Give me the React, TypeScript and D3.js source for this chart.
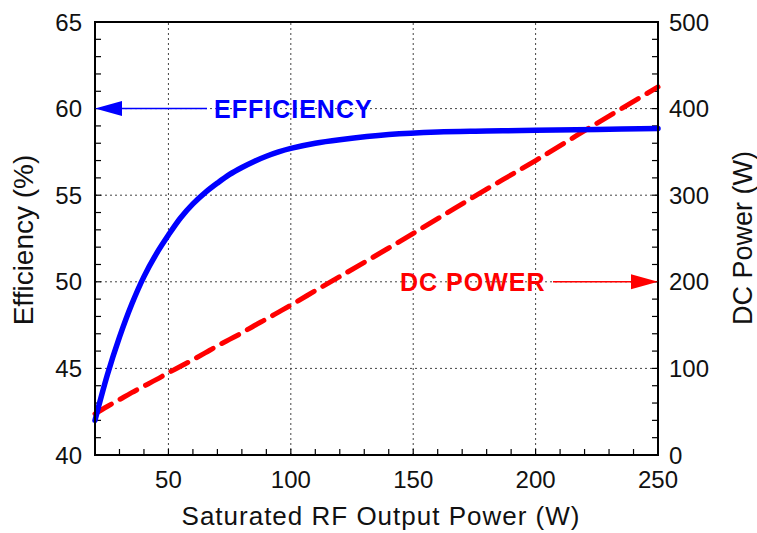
import * as d3 from 'd3'

const pout = [20, 25, 30, 35, 40, 45, 50, 55, 60, 65, 70, 75, 80, 85, 90, 95, 100, 110, 120, 140, 160, 180, 200, 225, 250]
const efficiency = [42.0, 44.6, 46.8, 48.7, 50.3, 51.6, 52.7, 53.7, 54.5, 55.15, 55.7, 56.2, 56.6, 56.95, 57.25, 57.5, 57.7, 58.0, 58.2, 58.5, 58.65, 58.7, 58.75, 58.8, 58.85]
const dcPower = [47.6, 56, 64, 72, 79.5, 87, 95, 102.4, 110, 117.9, 126, 133.5, 141, 149.3, 157, 165, 173, 189.7, 206, 239, 273, 307, 340, 383, 425]

const xTicks = [50, 100, 150, 200, 250]
const effTicks = [40, 45, 50, 55, 60, 65]
const dcTicks = [0, 100, 200, 300, 400, 500]

const W = 757
const H = 533
const M = { left: 95, right: 99, top: 22, bottom: 78 }
const FONT = 'Liberation Sans, Arial, sans-serif'
const BLUE = '#0000ff'
const RED = '#ff0000'

export default function App() {
  const x = d3.scaleLinear().domain([20, 250]).range([M.left, W - M.right])
  const yL = d3.scaleLinear().domain([40, 65]).range([H - M.bottom, M.top])
  const yR = d3.scaleLinear().domain([0, 500]).range([H - M.bottom, M.top])

  const x0 = M.left
  const x1 = W - M.right
  const y0 = H - M.bottom
  const y1 = M.top

  const effLine = d3.line<number>().x((_, i) => x(pout[i])).y((d) => yL(d)).curve(d3.curveCatmullRom)
  const dcLine = d3.line<number>().x((_, i) => x(pout[i])).y((d) => yR(d)).curve(d3.curveCatmullRom)

  const xMinor = d3.range(30, 250, 10)
  const effMinor = d3.range(41, 65, 1)
  const dcMinor = d3.range(20, 500, 20)

  const effArrowY = yL(60)
  const dcArrowY = yR(200)

  return (
    <svg width={W} height={H} style={{ position: 'fixed', left: 0, top: 0, background: '#fff' }} fontFamily={FONT}>
      {/* grid */}
      <g stroke="#444" strokeWidth={1} strokeDasharray="2,3">
        {xTicks.filter((t) => t < 250).map((t) => (
          <line key={'gx' + t} x1={x(t)} x2={x(t)} y1={y0} y2={y1} />
        ))}
        {effTicks.filter((t) => t > 40 && t < 65).map((t) => (
          <line key={'gy' + t} x1={x0} x2={x1} y1={yL(t)} y2={yL(t)} />
        ))}
      </g>

      {/* minor ticks, inward */}
      <g stroke="#000" strokeWidth={1.2}>
        {xMinor.map((t) => (
          <line key={'mx' + t} x1={x(t)} x2={x(t)} y1={y0} y2={y0 - 6} />
        ))}
        {effMinor.map((t) => (
          <line key={'ml' + t} x1={x0} x2={x0 + 6} y1={yL(t)} y2={yL(t)} />
        ))}
        {dcMinor.map((t) => (
          <line key={'mr' + t} x1={x1} x2={x1 - 6} y1={yR(t)} y2={yR(t)} />
        ))}
      </g>

      {/* series */}
      <path d={dcLine(dcPower) || ''} fill="none" stroke={RED} strokeWidth={5} strokeDasharray="19,10" strokeLinecap="round" />
      <path d={effLine(efficiency) || ''} fill="none" stroke={BLUE} strokeWidth={5.5} strokeLinecap="round" />

      {/* frame */}
      <rect x={x0} y={y1} width={x1 - x0} height={y0 - y1} fill="none" stroke="#000" strokeWidth={2} />

      {/* tick labels */}
      <g fontSize={24} fill="#111">
        {xTicks.map((t) => (
          <text key={'tx' + t} x={x(t)} y={y0 + 33} textAnchor="middle">{t}</text>
        ))}
        {effTicks.map((t) => (
          <text key={'tl' + t} x={x0 - 13} y={yL(t) + 8.5} textAnchor="end">{t}</text>
        ))}
        {dcTicks.map((t) => (
          <text key={'tr' + t} x={x1 + 11} y={yR(t) + 8.5} textAnchor="start">{t}</text>
        ))}
      </g>

      {/* axis titles */}
      <text x={381} y={525} textAnchor="middle" fontSize={26} letterSpacing={1} fill="#111">Saturated RF Output Power (W)</text>
      <text transform={`translate(33,240) rotate(-90)`} textAnchor="middle" fontSize={28} fill="#111">Efficiency (%)</text>
      <text transform={`translate(752,238) rotate(-90)`} textAnchor="middle" fontSize={27} fill="#111">DC Power (W)</text>

      {/* annotations */}
      <line x1={x0 + 20} x2={207} y1={effArrowY} y2={effArrowY} stroke={BLUE} strokeWidth={1.5} />
      <path d={`M${x0},${effArrowY} L${x0 + 27},${effArrowY - 7.5} L${x0 + 27},${effArrowY + 7.5} Z`} fill={BLUE} />
      <text x={214} y={effArrowY + 9} fontSize={25} fontWeight="bold" fill={BLUE} letterSpacing={1}>EFFICIENCY</text>

      <text x={400} y={dcArrowY + 9} fontSize={25} fontWeight="bold" fill={RED} letterSpacing={1}>DC POWER</text>
      <line x1={553} x2={x1 - 20} y1={dcArrowY} y2={dcArrowY} stroke={RED} strokeWidth={1.5} />
      <path d={`M${x1},${dcArrowY} L${x1 - 27},${dcArrowY - 7.5} L${x1 - 27},${dcArrowY + 7.5} Z`} fill={RED} />
    </svg>
  )
}
